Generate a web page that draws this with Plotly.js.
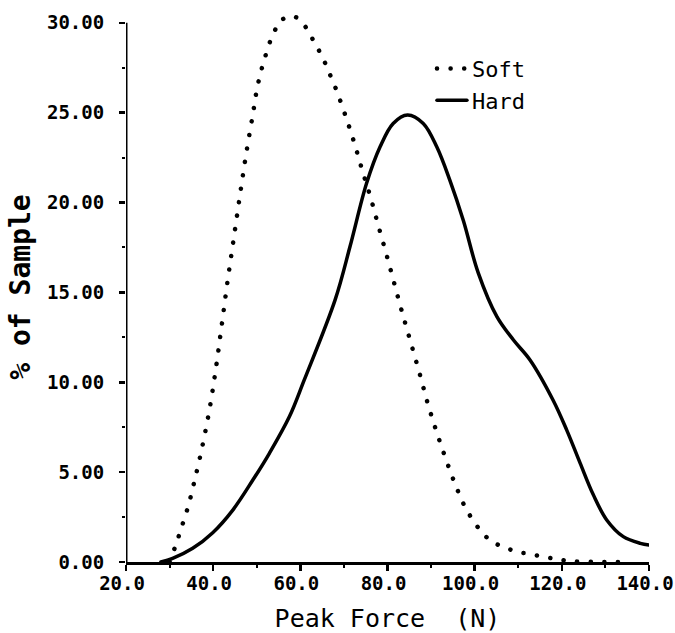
<!DOCTYPE html>
<html>
<head>
<meta charset="utf-8">
<script src="https://cdn.plot.ly/plotly-3.0.1.min.js"></script>
<style>
  html, body { margin: 0; padding: 0; background: #fff; }
  #chart { width: 675px; height: 633px; }
  #chart .js-line { stroke-linecap: round; }
</style>
</head>
<body>
<div id="chart"></div>
<script>
// Soft surface: peak force (N) vs % of sample (dotted curve)
var softForce = [30.0, 31.5, 32.5, 33.5, 34.4, 35.2, 36.0, 37.4, 39.2, 40.7, 42.0, 43.3, 44.7, 46.1, 47.5,
  49.1, 50.2, 51.8, 54.0, 56.0, 58.6, 61.1, 62.8, 64.4, 65.8, 67.0, 68.2, 70.4, 72.4, 74.2, 76.1, 77.8,
  79.6, 81.3, 83.0, 84.8, 87.5, 89.2, 91.1, 93.2, 95.4, 98.0, 101.6, 104.0, 106.8, 109.8, 112.9, 116.0,
  119.1, 122.0, 126.0, 130.0, 135.0];
var softPct = [0.0, 1.0, 1.74, 2.5, 3.2, 4.0, 4.8, 6.3, 8.55, 10.9, 13.24, 15.62, 17.97, 20.33, 22.6,
  24.9, 26.5, 28.0, 29.5, 30.2, 30.35, 29.8, 29.1, 28.4, 27.7, 27.0, 26.3, 24.8, 23.3, 21.8, 20.3, 18.8,
  17.25, 15.73, 14.2, 12.67, 10.37, 8.85, 7.36, 5.86, 4.41, 2.97, 1.67, 1.13, 0.82, 0.57, 0.43, 0.28,
  0.15, 0.05, 0.02, 0.0, 0.0];

// Hard surface (solid curve)
var hardForce = [28.0, 30.7, 35.3, 39.9, 44.5, 49.1, 52.9, 57.5, 60.9, 68.0, 71.4, 75.2, 78.3, 81.3,
  84.6, 88.2, 91.3, 94.3, 97.4, 100.8, 105.1, 108.9, 112.7, 118.0, 121.1, 124.2, 127.2,
  130.3, 134.1, 138.0, 140.0];
var hardPct = [0.0, 0.2, 0.76, 1.63, 2.89, 4.56, 6.05, 8.09, 10.13, 14.6, 17.55, 21.07, 23.1, 24.4,
  24.87, 24.4, 23.1, 21.25, 19.0, 16.1, 13.65, 12.35, 11.24, 9.0, 7.35, 5.5, 3.75,
  2.34, 1.41, 1.04, 0.95];

var xTicks = [20, 40, 60, 80, 100, 120, 140];
var xTickText = ['20.0', '40.0', '60.0', '80.0', '100.0', '120.0', '140.0'];
var yTicks = [0, 5, 10, 15, 20, 25, 30];
var yTickText = ['0.00', '5.00', '10.00', '15.00', '20.00', '25.00', '30.00'];

var mono = 'DejaVu Sans Mono, Liberation Mono, monospace';

var traces = [
  {
    x: softForce, y: softPct, name: 'Soft', type: 'scatter', mode: 'lines',
    line: { color: '#000', width: 4.5, dash: '0.1px,13.5px', shape: 'spline', smoothing: 1.0 }
  },
  {
    x: hardForce, y: hardPct, name: 'Hard', type: 'scatter', mode: 'lines',
    line: { color: '#000', width: 3.5, shape: 'spline', smoothing: 1.0 }
  }
];

var layout = {
  width: 675, height: 633,
  margin: { l: 126, r: 26, t: 12, b: 71 },
  paper_bgcolor: '#fff', plot_bgcolor: '#fff',
  showlegend: true,
  legend: {
    x: 0.585, y: 0.935, xanchor: 'left', yanchor: 'top',
    font: { family: mono, size: 22, color: '#000' },
    bgcolor: 'rgba(0,0,0,0)', borderwidth: 0
  },
  xaxis: {
    range: [20, 140], showgrid: false, zeroline: false,
    showline: true, linecolor: '#000', linewidth: 3,
    tickmode: 'array', tickvals: xTicks, ticktext: xTickText,
    ticks: 'outside', ticklen: 6, tickwidth: 2.5, tickcolor: '#000',
    ticklabelstandoff: -4, ticklabelshift: -4,
    tickfont: { family: mono, size: 19, weight: 'bold', color: '#000' },
    minor: { dtick: 10, ticks: 'outside', ticklen: 3, tickwidth: 2, tickcolor: '#000', showgrid: false },
    title: { text: 'Peak Force  (N)', font: { family: mono, size: 25, color: '#000' }, standoff: 27 }
  },
  yaxis: {
    range: [0, 30.6], showgrid: false, zeroline: false,
    showline: false,
    tickmode: 'array', tickvals: yTicks, ticktext: yTickText,
    ticks: 'outside', ticklen: 6, tickwidth: 2.5, tickcolor: '#000',
    ticklabelstandoff: 11,
    tickfont: { family: mono, size: 19, weight: 'bold', color: '#000' },
    minor: { dtick: 2.5, ticks: 'outside', ticklen: 3, tickwidth: 2, tickcolor: '#000', showgrid: false },
    title: { text: '% of Sample', font: { family: mono, size: 28, weight: 'bold', color: '#000' }, standoff: 8 }
  },
  shapes: [
    { type: 'line', xref: 'x', yref: 'y', x0: 20, x1: 20, y0: 0, y1: 30,
      line: { color: '#000', width: 3 } }
  ]
};

Plotly.newPlot('chart', traces, layout, { displayModeBar: false, staticPlot: true });
</script>
</body>
</html>
